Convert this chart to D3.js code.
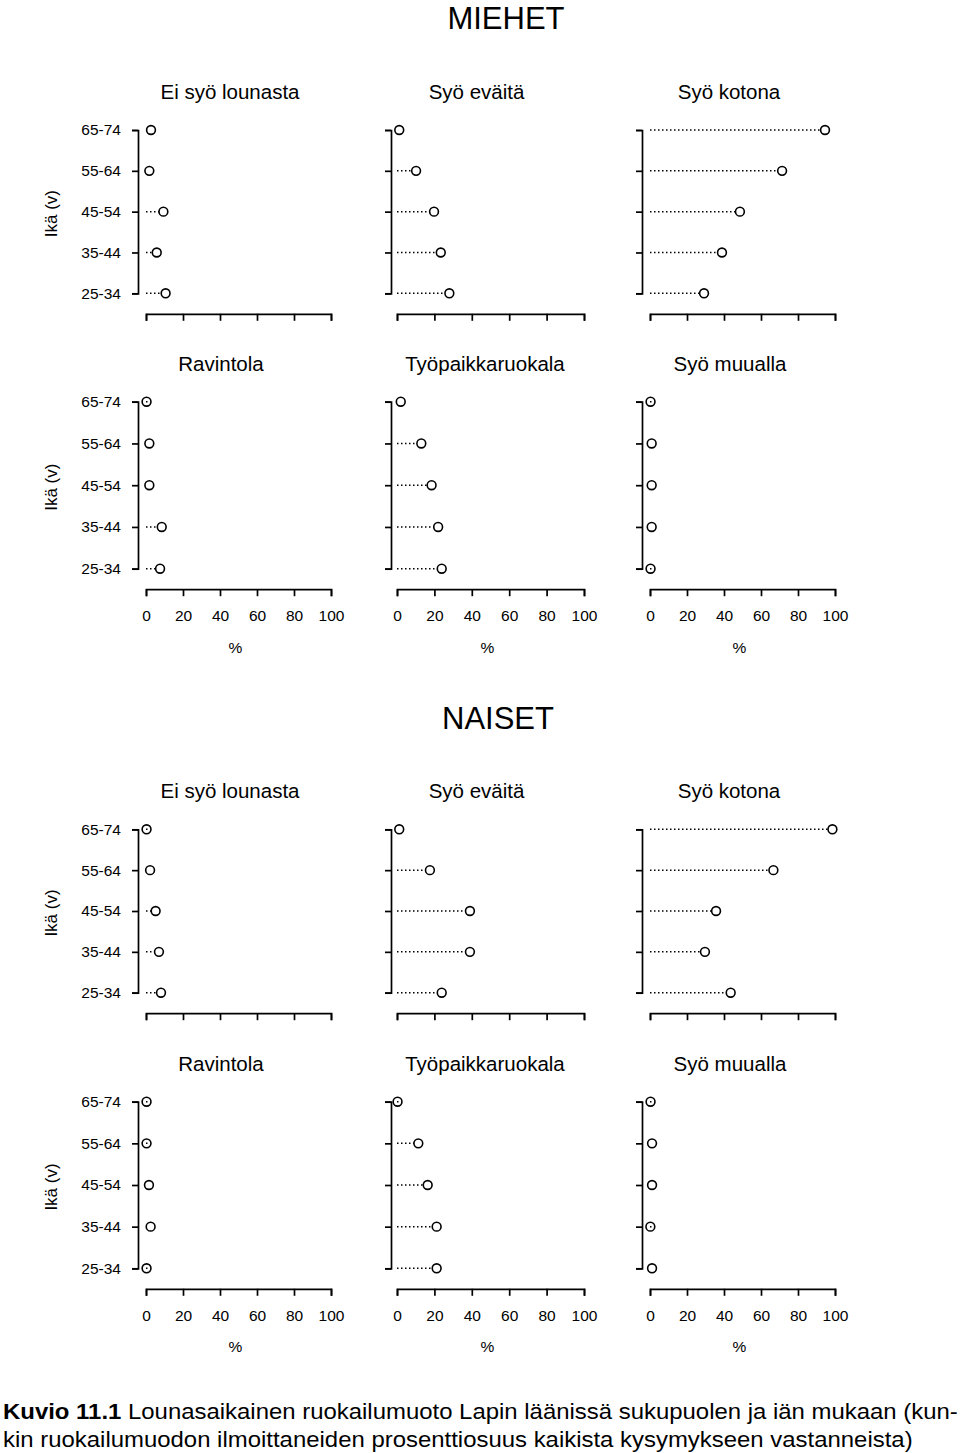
<!DOCTYPE html>
<html><head><meta charset="utf-8">
<script src="https://cdn.jsdelivr.net/npm/d3@7"></script>
<style>
body{margin:0;background:#fff}
svg{display:block}
text{font-family:"Liberation Sans",Arial,Helvetica,sans-serif;fill:#000}
</style></head>
<body>
<svg id="chart" width="960" height="1453"></svg>
<script>
// ---------- DATA ----------
const ageGroups = ["25-34","35-44","45-54","55-64","65-74"];
const xTicks = [0,20,40,60,80,100];
const groupTitles = ["MIEHET","NAISET"];
const panelTitles = ["Ei syö lounasta","Syö eväitä","Syö kotona","Ravintola","Työpaikkaruokala","Syö muualla"];
const yLabel = "Ikä (v)";
const xLabel = "%";
// values ordered like ageGroups (25-34 ... 65-74)
const miehetEiSyo     = [10.6, 5.8, 9.4, 1.8, 2.7];
const miehetEvaita    = [28.0, 23.4, 19.8, 10.2, 1.2];
const miehetKotona    = [29.2, 38.9, 48.6, 71.4, 94.6];
const miehetRavintola = [7.6, 8.5, 1.8, 1.8, 0.3];
const miehetTyopaikka = [23.9, 22.0, 18.5, 13.0, 2.0];
const miehetMuualla   = [0.3, 0.9, 0.9, 0.9, 0.3];
const naisetEiSyo     = [8.1, 7.0, 5.2, 2.2, 0.3];
const naisetEvaita    = [23.9, 39.0, 39.0, 17.6, 1.2];
const naisetKotona    = [43.6, 29.7, 35.7, 66.7, 98.6];
const naisetRavintola = [0.3, 2.5, 1.6, 0.3, 0.3];
const naisetTyopaikka = [21.2, 21.2, 16.4, 11.4, 0.3];
const naisetMuualla   = [1.1, 0.2, 1.1, 1.1, 0.3];
const captionBold = "Kuvio 11.1";
const captionLine1 = " Lounasaikainen ruokailumuoto Lapin läänissä sukupuolen ja iän mukaan (kun-";
const captionLine2 = "kin ruokailumuodon ilmoittaneiden prosenttiosuus kaikista kysymykseen vastanneista)";

const seriesByGroup = [
  [miehetEiSyo, miehetEvaita, miehetKotona, miehetRavintola, miehetTyopaikka, miehetMuualla],
  [naisetEiSyo, naisetEvaita, naisetKotona, naisetRavintola, naisetTyopaikka, naisetMuualla]
];

// ---------- LAYOUT ----------
const colX0 = [146, 397, 650], colX1 = [331, 584, 835], colYAxis = [138, 391, 642];
const rowTop = [[130, 401.7], [829.3, 1101.7]];
const rowBottom = [[293.3, 568.7], [992.7, 1268.3]];
const titleCX = [[230, 476.5, 729], [221, 485, 730]];
const groupTitleY = [29, 729], groupTitleX = [506, 498];
const R = 4.4;

const svg = d3.select("#chart");

groupTitles.forEach((gt, g) => {
  svg.append("text").attr("x", groupTitleX[g]).attr("y", groupTitleY[g])
    .attr("text-anchor","middle").style("font-size","31px").text(gt);

  for (let r = 0; r < 2; r++) {
    const top = rowTop[g][r], bot = rowBottom[g][r];
    const y = d3.scalePoint().domain(ageGroups).range([bot, top]).padding(0);
    svg.append("text")
      .attr("transform", `translate(57,${(top+bot)/2+2}) rotate(-90)`)
      .attr("text-anchor","middle").style("font-size","17px").text(yLabel);

    for (let c = 0; c < 3; c++) {
      const idx = r*3 + c;
      const vals = seriesByGroup[g][idx];
      const x = d3.scaleLinear().domain([0,100]).range([colX0[c], colX1[c]]);
      const p = svg.append("g");

      p.append("text").attr("x", titleCX[r][c]).attr("y", top - 31)
        .attr("text-anchor","middle").style("font-size","20.5px").text(panelTitles[idx]);

      const yAx = d3.axisLeft(y).tickSize(6).tickSizeOuter(6).tickPadding(11);
      const yg = p.append("g").attr("transform", `translate(${colYAxis[c]},0)`).call(yAx);
      yg.selectAll("path,line").attr("stroke","#000").attr("stroke-width",1.7);
      yg.select(".domain").attr("fill","none");
      yg.selectAll("text").style("font-size","15.5px").attr("fill","#000")
        .style("font-family",'"Liberation Sans",Arial,sans-serif')
        .text(c === 0 ? d => d : "");

      const xAx = d3.axisBottom(x).tickValues(xTicks).tickSize(7).tickSizeOuter(7).tickPadding(14);
      if (r === 0) xAx.tickFormat("");
      const xg = p.append("g").attr("transform", `translate(0,${bot+20.5})`).call(xAx);
      xg.selectAll("path,line").attr("stroke","#000").attr("stroke-width",1.7);
      xg.select(".domain").attr("fill","none");
      xg.selectAll("text").style("font-size","15.5px").attr("fill","#000")
        .style("font-family",'"Liberation Sans",Arial,sans-serif');
      if (r === 1) {
        p.append("text").attr("x", (colX0[c]+colX1[c])/2 - 3).attr("y", bot + 84)
          .attr("text-anchor","middle").style("font-size","15.5px").text(xLabel);
      }

      const pts = ageGroups.map((a,i) => ({a, v: vals[i]}));
      p.selectAll("line.lead").data(pts.filter(d => {
          const len = x(d.v) - x(0);
          return len > R || len < 1;
        })).join("line").attr("class","lead")
        .attr("x1", x(0))
        .attr("x2", d => { const len = x(d.v)-x(0); return len > R ? x(d.v) - R : x(0) + 1.5; })
        .attr("y1", d => y(d.a)).attr("y2", d => y(d.a))
        .attr("stroke","#000").attr("stroke-width",1.5).attr("stroke-dasharray","1.5,2.5");

      p.selectAll("circle").data(pts).join("circle")
        .attr("cx", d => x(d.v)).attr("cy", d => y(d.a)).attr("r", R)
        .attr("fill","none").attr("stroke","#000").attr("stroke-width",1.6);
    }
  }
});

function fitLine(t, y, target) {
  const w = t.node().getComputedTextLength();
  const s = target / w;
  t.attr("transform", `translate(3,${y}) scale(${s},1)`);
}
const c1 = svg.append("text").style("font-size","22.5px");
c1.append("tspan").style("font-weight","bold").text(captionBold);
c1.append("tspan").text(captionLine1);
fitLine(c1, 1419, 955);
const c2 = svg.append("text").style("font-size","22.5px").text(captionLine2);
fitLine(c2, 1447, 910);
</script>
</body></html>
